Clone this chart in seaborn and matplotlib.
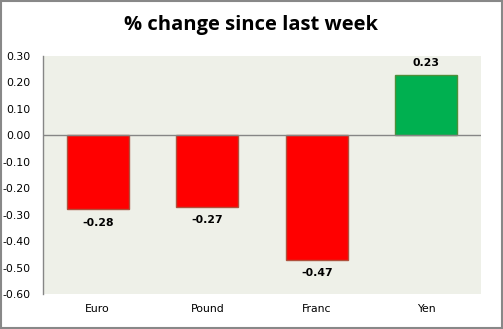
import matplotlib
matplotlib.use("Agg")
import matplotlib.pyplot as plt
import seaborn as sns
import pandas as pd
from matplotlib.patches import Rectangle

categories = ["Euro", "Pound", "Franc", "Yen"]
values = [-0.28, -0.27, -0.47, 0.23]
colors = ["#FF0000", "#FF0000", "#FF0000", "#00B050"]
edges = ["#B0503C", "#B0503C", "#B0503C", "#4E8F3A"]
title = "% change since last week"

sns.set_style("white")
plt.rcParams['font.family'] = ['DejaVu Sans']
plt.rcParams['text.color'] = 'black'
plt.rcParams['xtick.color'] = 'black'
plt.rcParams['ytick.color'] = 'black'

df = pd.DataFrame({"cat": categories, "val": values})

fig = plt.figure(figsize=(5.03, 3.29), dpi=100)
ax = fig.add_axes([43/503, 1-294/329, (481-43)/503, (294-56)/329])
ax.set_facecolor("#EEF0E8")

sns.barplot(data=df, x="cat", y="val", hue="cat", palette=colors, legend=False,
            width=0.57, ax=ax, saturation=1)
for p, ec in zip(ax.patches, edges):
    p.set_edgecolor(ec)
    p.set_linewidth(1.0)

ax.set_ylim(-0.60, 0.30)
ax.set_xlim(-0.5, 3.5)
yt = [i/10 for i in range(-6, 4)]
ax.set_yticks(yt)
ax.set_yticklabels([f"{t:.2f}" for t in yt], fontsize=7.8)
ax.tick_params(axis='y', length=0, pad=9)
ax.tick_params(axis='x', length=0, pad=7, labelsize=7.8)
ax.set_xlabel("")
ax.set_ylabel("")
for s in ["top", "right", "bottom"]:
    ax.spines[s].set_visible(False)
ax.spines["left"].set_color("#868686")
ax.spines["left"].set_linewidth(1)
ax.axhline(0, color="#868686", lw=1, zorder=1)

for i, v in enumerate(values):
    off = 0.045 if v > 0 else -0.05
    ax.text(i, v + off, f"{v:.2f}", ha="center", va="center", fontsize=7.8,
            fontweight="bold", color="black")

fig.text(0.5, 1-25/329, title, ha="center", va="center", fontsize=14.5,
         fontweight="bold", family="Open Sans", color="black")
fig.patches.append(Rectangle((0.001, 0.002), 0.997, 0.995, transform=fig.transFigure,
                             fill=False, edgecolor="#888888", lw=1.5))
fig.savefig("out.png", dpi=100)
